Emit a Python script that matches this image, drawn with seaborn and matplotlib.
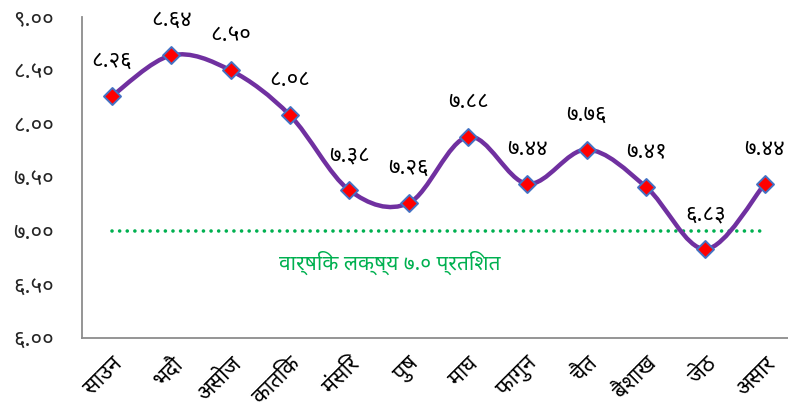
import numpy as np
import seaborn as sns
import matplotlib.pyplot as plt
from matplotlib.path import Path
from matplotlib.patches import PathPatch

# डाटा
mahina = ["साउन", "भदौ", "असोज", "कातिक", "मंसिर", "पुष", "माघ",
          "फागुन", "चैत", "बैशाख", "जेठ", "असार"]
mulya = [8.26, 8.64, 8.50, 8.08, 7.38, 7.26, 7.88, 7.44, 7.76, 7.41, 6.83, 7.44]
lakshya = 7.0
lakshya_text = "वार्षिक लक्ष्य ७.० प्रतिशत"
y_ticks = [6.0, 6.5, 7.0, 7.5, 8.0, 8.5, 9.0]

ank = str.maketrans("0123456789", "०१२३४५६७८९")

def nepali(v):
    return f"{v:.2f}".translate(ank)

sns.set_style("white")
plt.rcParams['font.family'] = ['Noto Sans Devanagari', 'Hind', 'Mukta', 'DejaVu Sans']

fig = plt.figure(figsize=(7.88, 4.16), dpi=100)
ax = fig.add_axes([0.104, 0.1875, 0.896, 0.772])

x = np.arange(len(mulya))
y = np.array(mulya)

# smooth line (catmull-rom -> bezier through the data points)
verts = [(x[0], y[0])]
codes = [Path.MOVETO]
for i in range(len(x) - 1):
    p0 = np.array([x[max(i - 1, 0)], y[max(i - 1, 0)]])
    p1 = np.array([x[i], y[i]])
    p2 = np.array([x[i + 1], y[i + 1]])
    p3 = np.array([x[min(i + 2, len(x) - 1)], y[min(i + 2, len(x) - 1)]])
    c1 = p1 + (p2 - p0) / 6
    c2 = p2 - (p3 - p1) / 6
    verts += [tuple(c1), tuple(c2), tuple(p2)]
    codes += [Path.CURVE4] * 3
ax.add_patch(PathPatch(Path(verts, codes), facecolor='none', edgecolor='#7030A0',
                       lw=3.2, capstyle='round', zorder=3))

# target line
ax.plot([x[0], x[-1]], [lakshya, lakshya], color='#00B050', lw=2.6,
        linestyle=(0, (0.01, 2.1)), dash_capstyle='round', zorder=2)
ax.text(4.68, 6.70, lakshya_text, color='#00B050', fontsize=15,
        ha='center', va='center')

sns.scatterplot(x=x, y=y, marker='D', s=75, color='#FF0000',
                edgecolor='#4472C4', linewidth=1.4, ax=ax, zorder=4)

for xi, yi in zip(x, y):
    ax.annotate(nepali(yi), (xi, yi), xytext=(0, 25), textcoords='offset points',
                ha='center', va='center', fontsize=16, color='black')

ax.set_xlim(-0.505, 11.39)
ax.set_ylim(6.0, 9.0)
ax.set_yticks(y_ticks)
ax.set_yticklabels([nepali(t) for t in y_ticks], fontsize=16, color='#262626')
ax.set_xticks(x)
ax.set_xticklabels(mahina, rotation=45, ha='right', rotation_mode='anchor',
                   fontsize=15.5, color='black')
ax.tick_params(length=0, axis='y', pad=20)
ax.tick_params(length=0, axis='x', pad=11)

for s in ['top', 'right']:
    ax.spines[s].set_visible(False)
for s in ['left', 'bottom']:
    ax.spines[s].set_color('#8C8C8C')
    ax.spines[s].set_linewidth(1.3)

fig.savefig("out.png", dpi=100)
